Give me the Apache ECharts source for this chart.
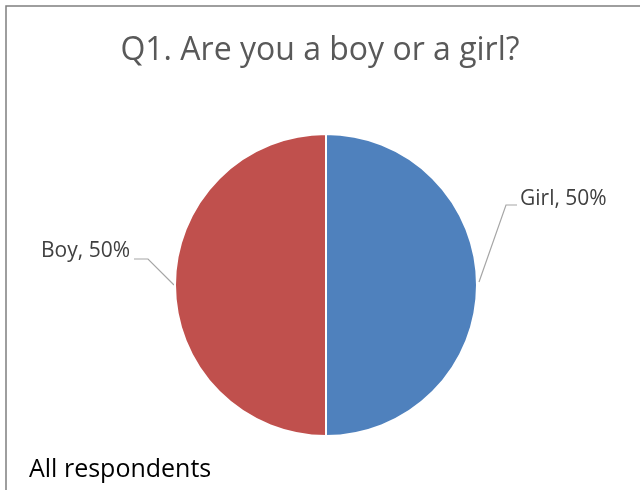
<!DOCTYPE html>
<html>
<head>
<meta charset="utf-8">
<script src="https://cdn.jsdelivr.net/npm/echarts@6/dist/echarts.min.js"></script>
<style>
  html, body { margin: 0; padding: 0; background: #fff; }
  #main { width: 640px; height: 490px; }
</style>
</head>
<body>
<div id="main"></div>
<script>
// 数据
var categories = ['Girl', 'Boy'];
var shares = [50, 50];
var colors = ['#4F81BD', '#C0504D'];

var CX = 326, CY = 285, R = 151;

var dom = document.getElementById('main');
var myChart = echarts.init(dom, null, { renderer: 'canvas' });

var pieData = [];
for (var i = 0; i < categories.length; i++) {
    pieData.push({
        name: categories[i],
        value: shares[i],
        itemStyle: { color: colors[i] }
    });
}

var option = {
    backgroundColor: '#fff',
    animation: false,
    title: [
        {
            text: 'Q1. Are you a boy or a girl?',
            left: 'center',
            top: 30,
            textStyle: {
                fontFamily: 'Open Sans',
                fontWeight: 'normal',
                fontSize: 32,
                color: '#595959'
            }
        },
        {
            text: 'All respondents',
            left: 24,
            top: 452,
            textStyle: {
                fontFamily: 'Open Sans',
                fontWeight: 'normal',
                fontSize: 25,
                color: '#000'
            }
        }
    ],
    graphic: [
        {
            type: 'rect',
            shape: { x: 6, y: 6, width: 700, height: 600 },
            style: { fill: 'none', stroke: '#7f7f7f', lineWidth: 1.5 },
            silent: true
        }
    ],
    series: [
        {
            type: 'pie',
            center: [CX, CY],
            radius: R,
            startAngle: 90,
            clockwise: true,
            data: pieData,
            itemStyle: { borderColor: '#fff', borderWidth: 2 },
            label: {
                show: true,
                formatter: '{b}, {d}%',
                fontFamily: 'Open Sans',
                fontSize: 21,
                color: '#404040'
            },
            labelLine: {
                show: true,
                lineStyle: { color: '#a6a6a6', width: 1.2 }
            },
            labelLayout: function (params) {
                if (params.dataIndex === 0) {
                    return {
                        x: CX + R + 43,
                        y: CY - 86,
                        align: 'left',
                        verticalAlign: 'middle',
                        labelLinePoints: [[CX + R + 2, CY - 3], [CX + R + 29, CY - 80], [CX + R + 40, CY - 80]]
                    };
                }
                return {
                    x: CX - R - 45,
                    y: CY - 34,
                    align: 'right',
                    verticalAlign: 'middle',
                    labelLinePoints: [[CX - R - 1, CY], [CX - R - 27, CY - 26], [CX - R - 41, CY - 26]]
                };
            }
        }
    ]
};

myChart.setOption(option);
</script>
</body>
</html>
